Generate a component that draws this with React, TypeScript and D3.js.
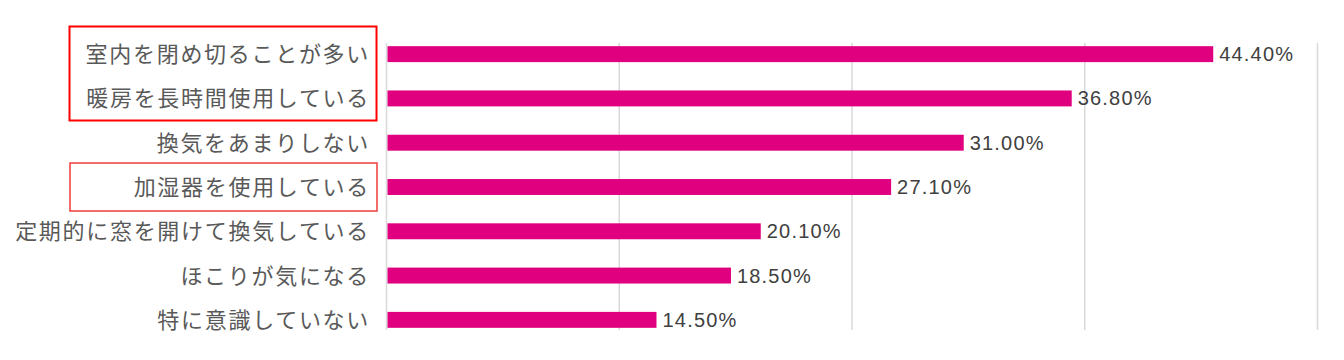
import React from "react";
import * as d3 from "d3";

const categories = [
  "室内を閉め切ることが多い",
  "暖房を長時間使用している",
  "換気をあまりしない",
  "加湿器を使用している",
  "定期的に窓を開けて換気している",
  "ほこりが気になる",
  "特に意識していない",
];
const values = [44.4, 36.8, 31.0, 27.1, 20.1, 18.5, 14.5];
const gridTicks = [0, 12.5, 25, 37.5, 50];

const W = 1344;
const H = 360;

export default function App() {
  const x = d3.scaleLinear().domain([0, 50]).range([386.5, 1317.5]);
  const y = d3
    .scaleBand<string>()
    .domain(categories)
    .range([32, 342])
    .paddingInner(0.64)
    .paddingOuter(0.32);
  const bw = y.bandwidth();
  const jp = "'Noto Sans CJK JP', 'Noto Sans', sans-serif";
  const num = "'Liberation Sans', Arial, sans-serif";

  return (
    <svg
      width={W}
      height={H}
      style={{ position: "absolute", left: 0, top: 0, background: "#fff" }}
    >
      {gridTicks.map((t) => (
        <line
          key={t}
          x1={x(t)}
          x2={x(t)}
          y1={43}
          y2={330}
          stroke="#d9d9d9"
          strokeWidth={1.5}
        />
      ))}
      {categories.map((c, i) => {
        const yy = y(c)!;
        const cy = yy + bw / 2;
        return (
          <g key={c}>
            <rect
              x={x(0) + 1}
              y={yy}
              width={x(values[i]) - x(0) - 1}
              height={bw}
              fill="#e0007f"
            />
            <text
              x={370}
              y={cy - 2}
              textAnchor="end"
              dominantBaseline="central"
              fontFamily={jp}
              fontSize={22}
              letterSpacing={1.7}
              fill="#595959"
            >
              {c}
            </text>
            <text
              x={x(values[i]) + 6}
              y={cy}
              dominantBaseline="central"
              fontFamily={num}
              fontSize={20}
              letterSpacing={1.2}
              fill="#404040"
            >
              {values[i].toFixed(2) + "%"}
            </text>
          </g>
        );
      })}
      <rect
        x={69.5}
        y={26.5}
        width={307}
        height={94}
        fill="none"
        stroke="#ff0000"
        strokeWidth={2}
      />
      <rect
        x={70}
        y={163}
        width={307}
        height={48}
        fill="none"
        stroke="#f03c3c"
        strokeWidth={1.5}
      />
    </svg>
  );
}
